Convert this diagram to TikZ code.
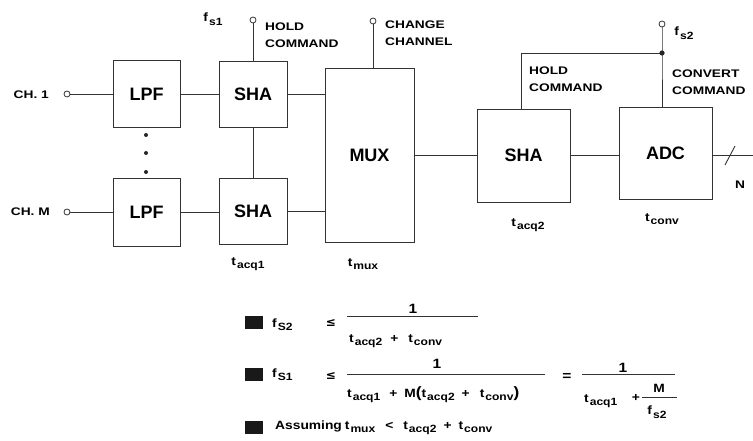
\documentclass[tikz,border=0pt]{standalone}
\usepackage{fontspec}
\setmainfont{Liberation Sans}
\newfontfamily\widefont[FakeStretch=1.25]{Liberation Sans}
\newfontfamily\fmfont[FakeStretch=1.15]{Liberation Sans}
\newfontfamily\symfont{DejaVu Sans}
\newcommand\sbs[1]{\kern1pt\raisebox{-3.5pt}{\fontsize{10.5}{11}\selectfont #1}}
\newcommand\bigpar[1]{{\fontsize{15}{15}\selectfont #1}}
\tikzset{
  wire/.style={line width=0.9pt, draw=black!80},
  blk/.style={draw=black!80, line width=0.9pt, inner sep=0pt, font=\fontsize{18}{20}\selectfont\bfseries},
  term/.style={circle, draw=black!80, line width=0.8pt, fill=white, inner sep=0pt, minimum size=6pt},
  lbl/.style={font=\widefont\fontsize{11}{16.5}\selectfont\bfseries, inner sep=0pt, align=left},
  fm/.style={font=\fmfont\fontsize{12}{14}\selectfont\bfseries, inner sep=0pt},
  one/.style={font=\fmfont\fontsize{13.5}{14}\selectfont\bfseries, inner sep=0pt},
  bul/.style={fill=black!90},
  fline/.style={line width=0.8pt, draw=black!80},
}
\begin{document}
\begin{tikzpicture}[x=1pt,y=-1pt]
\useasboundingbox (0,0) rectangle (753,441);
% blocks
\node[blk, minimum width=67pt, minimum height=67pt] (lpf1) at (146.5,94) {LPF};
\node[blk, minimum width=68pt, minimum height=66pt] (sha1) at (253,94) {SHA};
\node[blk, minimum width=67pt, minimum height=68pt] (lpf2) at (146.5,212) {LPF};
\node[blk, minimum width=68pt, minimum height=66pt] (sha2) at (253,211) {SHA};
\node[blk, minimum width=89pt, minimum height=174pt] (mux) at (369.5,155) {MUX};
\node[blk, minimum width=93pt, minimum height=93pt] (shaB) at (523.5,155.5) {SHA};
\node[blk, minimum width=93pt, minimum height=92pt] (adc) at (665.5,153) {ADC};
% terminals
\node[term] (in1) at (67,94) {};
\node[term] (inM) at (67,212) {};
\node[term] (h1) at (253,20) {};
\node[term] (cc) at (373,21) {};
\node[term] (fs2t) at (662,24) {};
\coordinate (j) at (662,53);
\coordinate (hb) at (521,53);
\coordinate (out) at (753,155);
% wires
\draw[wire] (in1) -- (lpf1);
\draw[wire] (inM) -- (inM -| lpf2.west);
\draw[wire] (lpf1) -- (sha1);
\draw[wire] (lpf2.east |- inM) -- (inM -| sha2.west);
\draw[wire] (h1) -- (sha1);
\draw[wire] (sha1) -- (sha2);
\draw[wire] (sha1.east) -- (sha1.east -| mux.west);
\draw[wire] (sha2.east) -- (sha2.east -| mux.west);
\draw[wire] (cc) -- (cc |- mux.north);
\draw[wire] (mux.east |- shaB) -- (shaB.west);
\draw[wire] (shaB.east) -- (shaB.east -| adc.west);
\draw[wire] (adc.east |- out) -- (out);
\draw[wire] (725,165) -- (735,146);
\draw[wire] (hb |- shaB.north) -- (hb) -- (j);
\draw[wire] (fs2t) -- (j) -- (j |- adc.north);
\fill[black!85] (j) circle (2.6);
% dots
\foreach \yy in {135,153,172} \fill[black!85] (146,\yy) circle (2);
% labels
\node[lbl, anchor=east] (lch1) at (49,95) {CH. 1};
\node[lbl, anchor=east] (lchM) at (50,212) {CH. M};
\node[fm] (lfs1) at (213,19) {f\sbs{s1}};
\node[lbl, anchor=north west] (lhc1) at (265,23) {HOLD\\COMMAND};
\node[lbl, anchor=north west] (lcc) at (385,21) {CHANGE\\CHANNEL};
\node[lbl, anchor=north west] (lhc2) at (529,67) {HOLD\\COMMAND};
\node[lbl, anchor=north west] (lcv) at (672,70) {CONVERT\\COMMAND};
\node[fm] (lfs2) at (684,33) {f\sbs{s2}};
\node[fm] (ta1) at (248,264) {t\sbs{acq1}};
\node[fm] (tmx) at (363,264) {t\sbs{mux}};
\node[fm] (ta2) at (528,225) {t\sbs{acq2}};
\node[fm] (tcv) at (662,219) {t\sbs{conv}};
\node[lbl] (lN) at (740,185) {N};
% formulas row 1
\fill[bul] (245,316) rectangle (263,329);
\node[fm, anchor=base west] (r1f) at (272,327) {f\sbs{S2}};
\node[fm] (r1le) at (331,323) {\symfont ≤};
\draw[fline] (347,316) -- (478,316);
\node[one, anchor=base] (r1n) at (413,313) {1};
\node[fm, anchor=base west] (r1d) at (349,342) {t\sbs{acq2}\hspace{8pt}+\hspace{10pt}t\sbs{conv}};
% row 2
\fill[bul] (245,368) rectangle (263,381);
\node[fm, anchor=base west] (r2f) at (272,377) {f\sbs{S1}};
\node[fm] (r2le) at (331,376) {\symfont ≤};
\draw[fline] (347,374) -- (545,374);
\node[one, anchor=base] (r2n) at (437,368) {1};
\node[fm, anchor=base west] (r2d) at (347,397) {t\sbs{acq1}\hspace{9pt}+\hspace{7pt}M\bigpar{(}t\sbs{acq2}\hspace{7pt}+\hspace{10pt}t\sbs{conv}\bigpar{)}};
\node[one] (r2eq) at (567,377) {=};
\draw[fline] (582,374) -- (675,374);
\node[one, anchor=base] (r2n2) at (623,372) {1};
\node[fm, anchor=base west] (r2d2) at (584,402) {t\sbs{acq1}};
\node[fm] (r2p) at (636,398) {+};
\node[fm] (r2m) at (659,388) {M};
\draw[fline] (642,397) -- (677,397);
\node[fm] (r2fs) at (657,412) {f\sbs{s2}};
% row 3
\fill[bul] (245,421) rectangle (263,434);
\node[fm, anchor=base west] (r3) at (275,429) {Assuming\hspace{3pt}t\sbs{mux}\hspace{10pt}<\hspace{10pt}t\sbs{acq2}\hspace{7pt}+\hspace{7pt}t\sbs{conv}};
\end{tikzpicture}
\end{document}
